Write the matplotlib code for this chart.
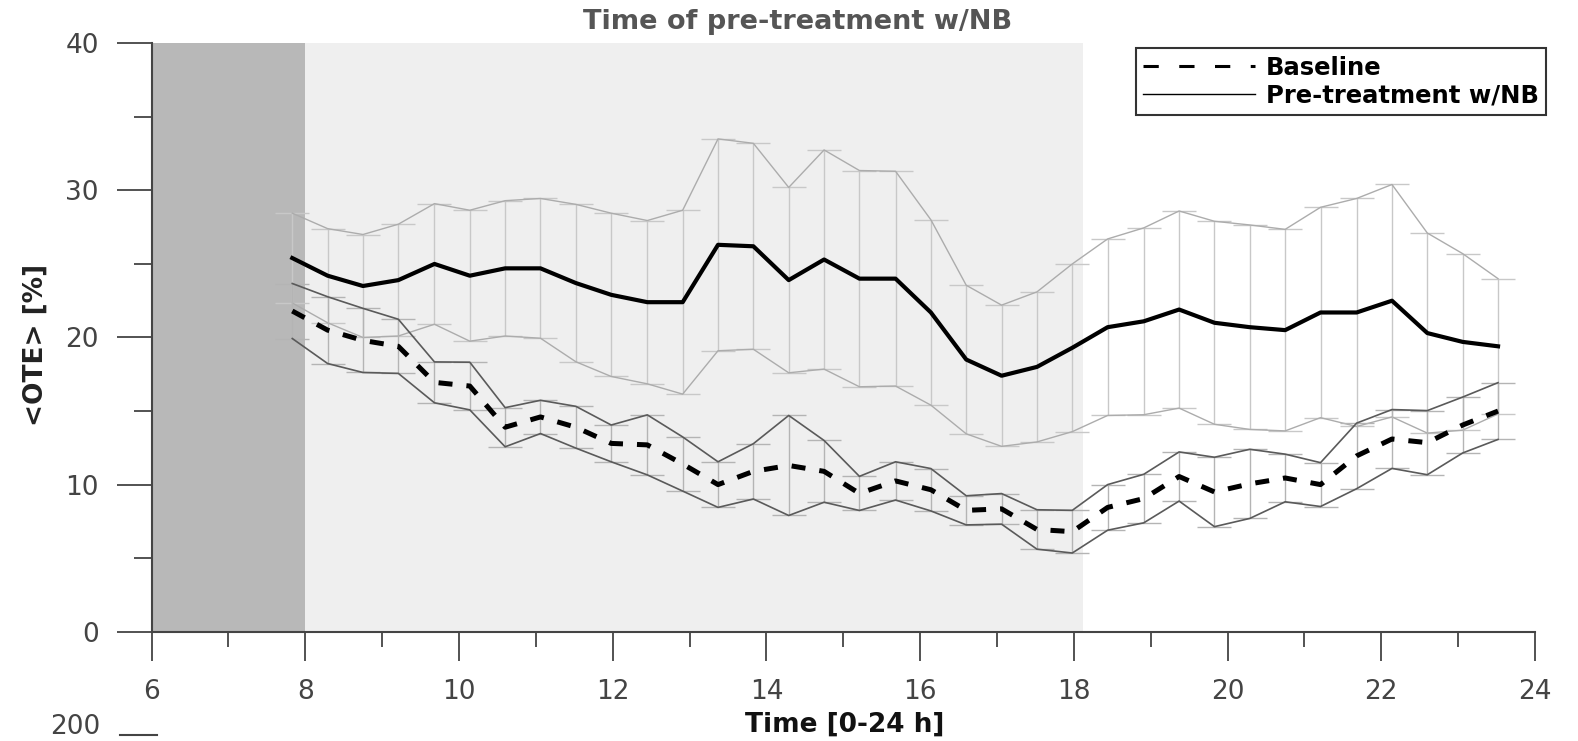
import numpy as np
import matplotlib
matplotlib.use("Agg")
import matplotlib.pyplot as plt
from matplotlib.lines import Line2D
from matplotlib.ticker import MultipleLocator

# time points (h)
hours = [7.83, 8.29, 8.75, 9.21, 9.68, 10.14, 10.60, 11.06, 11.52, 11.98, 12.45, 12.91,
         13.37, 13.83, 14.29, 14.75, 15.21, 15.68, 16.14, 16.60, 17.06, 17.52, 17.98,
         18.44, 18.91, 19.37, 19.83, 20.29, 20.75, 21.21, 21.68, 22.14, 22.60, 23.06, 23.52]

# pre-treatment w/NB : mean and sd
pre_mean = [25.4, 24.2, 23.5, 23.9, 25.0, 24.2, 24.7, 24.7, 23.7, 22.9, 22.4, 22.4,
            26.3, 26.2, 23.9, 25.3, 24.0, 24.0, 21.7, 18.5, 17.4, 18.0, 19.3,
            20.7, 21.1, 21.9, 21.0, 20.7, 20.5, 21.7, 21.7, 22.5, 20.3, 19.7, 19.4]
pre_sd = [3.05, 3.2, 3.5, 3.8, 4.1, 4.45, 4.6, 4.75, 5.35, 5.55, 5.55, 6.25,
          7.2, 7.0, 6.3, 7.45, 7.35, 7.3, 6.3, 5.05, 4.8, 5.1, 5.7,
          6.0, 6.35, 6.7, 6.9, 6.95, 6.85, 7.15, 7.75, 7.9, 6.8, 6.0, 4.6]

# baseline : mean and sd
base_mean = [21.8, 20.5, 19.8, 19.4, 16.95, 16.7, 13.9, 14.6, 13.9, 12.8, 12.7, 11.4,
             10.0, 10.9, 11.3, 10.9, 9.4, 10.25, 9.65, 8.25, 8.35, 6.95, 6.8,
             8.45, 9.05, 10.55, 9.5, 10.05, 10.45, 10.0, 11.95, 13.1, 12.85, 14.05, 15.0]
base_sd = [1.87, 2.27, 2.18, 1.84, 1.39, 1.62, 1.33, 1.13, 1.42, 1.25, 2.04, 1.84,
           1.55, 1.88, 3.4, 2.1, 1.16, 1.3, 1.44, 0.99, 1.04, 1.34, 1.45,
           1.55, 1.65, 1.67, 2.36, 2.35, 1.62, 1.49, 2.23, 2.0, 2.18, 1.9, 1.93]

x = np.array(hours)
pm, ps = np.array(pre_mean), np.array(pre_sd)
bm, bs = np.array(base_mean), np.array(base_sd)

tick_col = '#444444'

fig = plt.figure(figsize=(15.78, 7.41), dpi=100)
ax = fig.add_axes([0.0961, 0.1475, 0.8766, 0.7941])

# shaded periods
ax.axvspan(6, 8, color='#b8b8b8', lw=0, zorder=0)
ax.axvspan(8, 18.12, color='#efefef', lw=0, zorder=0)

# pre-treatment error bars + envelope
ax.errorbar(x, pm, yerr=ps, fmt='none', ecolor='#c8c8c8', elinewidth=1.0,
            capsize=12, capthick=1.0, zorder=2)
ax.plot(x, pm + ps, color='#acacac', lw=1.0, zorder=2)
ax.plot(x, pm - ps, color='#acacac', lw=1.0, zorder=2)

# baseline error bars + envelope
ax.errorbar(x, bm, yerr=bs, fmt='none', ecolor='#b4b4b4', elinewidth=1.0,
            capsize=12, capthick=1.0, zorder=3)
ax.plot(x, bm + bs, color='#5a5a5a', lw=1.2, zorder=3)
ax.plot(x, bm - bs, color='#5a5a5a', lw=1.2, zorder=3)

# means
ax.plot(x, pm, color='black', lw=3.0, zorder=5)
ax.plot(x, bm, color='black', lw=3.6, linestyle=(0, (2.8, 2.8)), zorder=5)

ax.set_xlim(6, 24)
ax.set_ylim(0, 40)
ax.xaxis.set_major_locator(MultipleLocator(2))
ax.xaxis.set_minor_locator(MultipleLocator(1))
ax.yaxis.set_major_locator(MultipleLocator(10))
ax.yaxis.set_minor_locator(MultipleLocator(5))

for s in ['top', 'right']:
    ax.spines[s].set_visible(False)
for s in ['left', 'bottom']:
    ax.spines[s].set_color(tick_col)
    ax.spines[s].set_linewidth(1.5)

ax.tick_params(axis='y', which='major', length=25, width=1.3, color=tick_col,
               labelcolor=tick_col, labelsize=19, pad=13)
ax.tick_params(axis='y', which='minor', length=13, width=1.3, color=tick_col)
ax.tick_params(axis='x', which='major', length=21, width=1.3, color=tick_col,
               labelcolor=tick_col, labelsize=19, pad=13)
ax.tick_params(axis='x', which='minor', length=11, width=1.3, color=tick_col)

fig.text(0.5057, 0.970, 'Time of pre-treatment w/NB', ha='center', va='center',
         fontsize=19.5, fontweight='bold', color='#555555')
fig.text(0.0228, 0.534, '<OTE> [%]', rotation=90, ha='center', va='center',
         fontsize=19, fontweight='bold', color='#222222')
fig.text(0.5355, 0.022, 'Time [0-24 h]', ha='center', va='center',
         fontsize=19, fontweight='bold', color='#111111')

# legend
handles = [Line2D([], [], color='black', lw=2.2, linestyle=(0, (5, 6.7))),
           Line2D([], [], color='black', lw=1.0)]
leg = fig.legend(handles, ['Baseline', 'Pre-treatment w/NB'],
                 loc='upper right', bbox_to_anchor=(0.9797, 0.9348),
                 bbox_transform=fig.transFigure, fancybox=False,
                 prop={'size': 17.5, 'weight': 'bold'}, handlelength=4.6,
                 handletextpad=0.45, labelspacing=0.15, borderpad=0.3,
                 borderaxespad=0, framealpha=1)
leg.get_frame().set_edgecolor('#333333')
leg.get_frame().set_linewidth(1.5)

# start of the next panel below
fig.text(100 / 1578, 1 - 740 / 741, '200', ha='right', va='bottom',
         fontsize=19, color=tick_col)
fig.add_artist(Line2D([120 / 1578, 157 / 1578], [1 - 735 / 741] * 2,
                      color=tick_col, lw=1.5))

fig.savefig('out.png', dpi=100)
